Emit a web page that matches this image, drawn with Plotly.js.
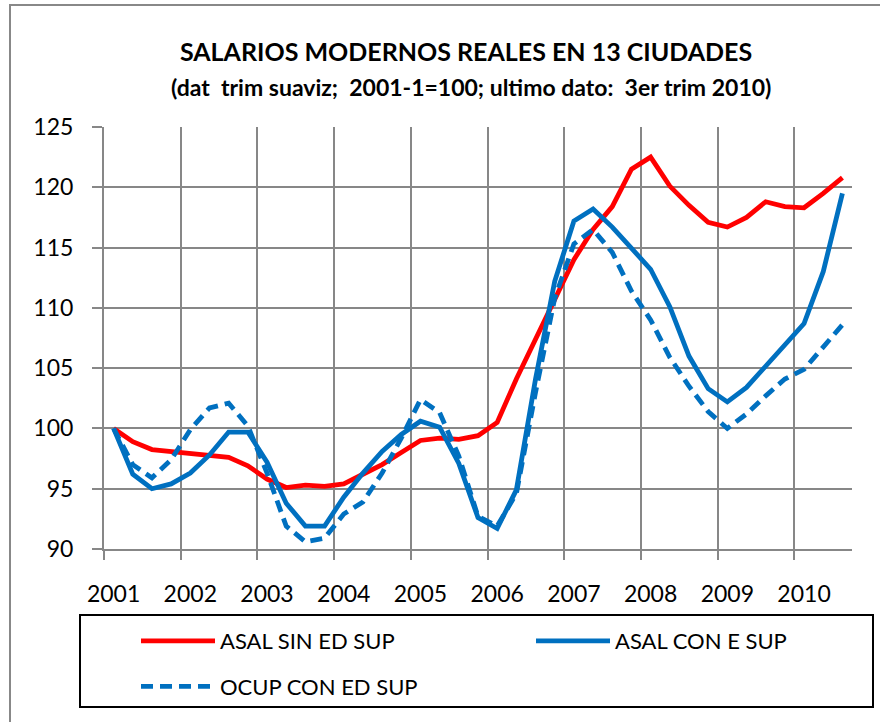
<!DOCTYPE html>
<html>
<head>
<meta charset="utf-8">
<script src="https://cdn.plot.ly/plotly-3.0.1.min.js"></script>
<style>
html,body{margin:0;padding:0;background:#fff;}
#chart{position:absolute;left:0;top:0;width:880px;height:722px;}
#frame{position:absolute;left:9px;top:4px;width:900px;height:760px;border-top:2px solid #888;border-left:2px solid #888;pointer-events:none;}
</style>
</head>
<body>
<div id="chart"></div>
<div id="frame"></div>
<script>
// Quarterly periods (2001 Q1 .. 2010 Q3)
const quarters = [
  "2001-1","2001-2","2001-3","2001-4",
  "2002-1","2002-2","2002-3","2002-4",
  "2003-1","2003-2","2003-3","2003-4",
  "2004-1","2004-2","2004-3","2004-4",
  "2005-1","2005-2","2005-3","2005-4",
  "2006-1","2006-2","2006-3","2006-4",
  "2007-1","2007-2","2007-3","2007-4",
  "2008-1","2008-2","2008-3","2008-4",
  "2009-1","2009-2","2009-3","2009-4",
  "2010-1","2010-2","2010-3"
];
const yearLabels = ["2001","2002","2003","2004","2005","2006","2007","2008","2009","2010"];

const asalSinEdSup = [100, 98.9, 98.25, 98.1, 97.9, 97.8, 97.6, 96.9, 95.8, 95.1,
  95.3, 95.2, 95.4, 96.2, 97.0, 98.0, 99.0, 99.2, 99.1, 99.4,
  100.5, 104.1, 107.4, 110.5, 114.0, 116.5, 118.4, 121.5, 122.5, 120.1,
  118.5, 117.1, 116.7, 117.5, 118.8, 118.4, 118.3, 119.5, 120.8];

const asalConESup = [100, 96.2, 95.0, 95.4, 96.3, 97.8, 99.7, 99.7, 97.2, 93.8,
  91.9, 91.9, 94.3, 96.3, 98.1, 99.5, 100.6, 100.1, 97.1, 92.6,
  91.7, 94.9, 104.1, 112.2, 117.2, 118.2, 116.7, 114.9, 113.2, 110.1,
  106.0, 103.3, 102.2, 103.4, 105.2, 107.0, 108.7, 113.0, 119.5];

const ocupConEdSup = [100, 97.0, 95.9, 97.4, 99.9, 101.7, 102.1, 100.2, 96.3, 91.9,
  90.6, 90.9, 92.9, 93.9, 96.3, 99.2, 102.4, 101.3, 97.7, 92.7,
  91.9, 94.6, 103.0, 110.8, 115.3, 116.5, 114.6, 111.4, 109.0, 105.9,
  103.5, 101.4, 100.0, 101.2, 102.7, 104.1, 104.9, 106.8, 108.6];

const seriesNames = ["ASAL SIN ED SUP", "ASAL CON E SUP", "OCUP CON ED SUP"];

const xIdx = quarters.map((q, i) => i);
const yearTickIdx = quarters.map((q, i) => q.endsWith("-1") ? i : -1).filter(i => i >= 0);
const yearBounds = yearTickIdx.map(i => i - 0.5);

const RED = "#FF0000", BLUE = "#0070C0", GRID = "#878787";
const FONT = "Lato, 'Open Sans', sans-serif";
const NB = "\u00a0";

const traces = [
  {x: xIdx, y: asalSinEdSup, name: seriesNames[0], type: "scatter", mode: "lines",
   line: {color: RED, width: 4.8}, legend: "legend", legendgroup: "a"},
  {x: xIdx, y: asalConESup, name: seriesNames[1], type: "scatter", mode: "lines",
   line: {color: BLUE, width: 4.8}, legend: "legend2", legendgroup: "b"},
  {x: xIdx, y: ocupConEdSup, name: seriesNames[2], type: "scatter", mode: "lines",
   line: {color: BLUE, width: 4.8, dash: "12px,7px"}, legend: "legend", legendgroup: "c"}
];

const layout = {
  width: 880, height: 722,
  margin: {l: 104, r: 28, t: 127, b: 173, pad: 0, autoexpand: false},
  paper_bgcolor: "rgba(0,0,0,0)", plot_bgcolor: "#fff",
  font: {family: FONT, color: "#000"},
  showlegend: true,
  title: {
    text: "<b>SALARIOS MODERNOS REALES EN 13 CIUDADES</b>",
    font: {family: FONT, size: 25, color: "#000"},
    xref: "paper", x: 0.484, xanchor: "center",
    yref: "container", y: 1 - 52 / 722, yanchor: "middle"
  },
  annotations: [{
    text: "<b>(dat" + NB + " trim suaviz;" + NB + " 2001-1=100; ultimo dato:" + NB + " 3er trim 2010)</b>",
    xref: "paper", yref: "paper", x: 0.491, y: (549 - 86.5) / 422,
    xanchor: "center", yanchor: "middle", showarrow: false,
    font: {family: FONT, size: 23, color: "#000"}
  }],
  xaxis: {
    range: [-0.5, 38.5], fixedrange: true, zeroline: false,
    tickmode: "array", tickvals: yearTickIdx, ticktext: yearLabels,
    showgrid: false, ticks: "", ticklabelstandoff: 23,
    tickfont: {family: FONT, size: 23, color: "#000"},
    showline: true, linecolor: GRID, linewidth: 2,
    minor: {tickmode: "array", tickvals: yearBounds, showgrid: true, gridcolor: GRID, gridwidth: 2,
            ticks: "outside", ticklen: 9, tickcolor: GRID, tickwidth: 2}
  },
  yaxis: {
    range: [90, 125], fixedrange: true, zeroline: false,
    tickmode: "linear", tick0: 90, dtick: 5,
    showgrid: true, gridcolor: GRID, gridwidth: 2,
    ticks: "outside", ticklen: 10, tickcolor: GRID, tickwidth: 2,
    ticklabelstandoff: 14,
    tickfont: {family: FONT, size: 23, color: "#000"},
    showline: true, linecolor: GRID, linewidth: 2
  },
  legend: {
    orientation: "v", x: (136 - 104) / 748, xanchor: "left",
    y: (549 - 620) / 422, yanchor: "top",
    bgcolor: "rgba(0,0,0,0)", borderwidth: 0,
    traceorder: "grouped", tracegroupgap: 14, itemwidth: 74,
    font: {family: FONT, size: 22, color: "#000"}
  },
  legend2: {
    orientation: "v", x: (531 - 104) / 748, xanchor: "left",
    y: (549 - 620) / 422, yanchor: "top",
    bgcolor: "rgba(0,0,0,0)", borderwidth: 0, itemwidth: 74,
    font: {family: FONT, size: 22, color: "#000"}
  },
  shapes: [{
    type: "rect", xref: "paper", yref: "paper",
    x0: (80 - 104) / 748, x1: (873 - 104) / 748,
    y0: (549 - 615) / 422, y1: (549 - 707) / 422,
    line: {color: "#000", width: 2}, fillcolor: "rgba(0,0,0,0)", layer: "above"
  }]
};

Plotly.newPlot("chart", traces, layout, {displayModeBar: false, staticPlot: true});
</script>
</body>
</html>
